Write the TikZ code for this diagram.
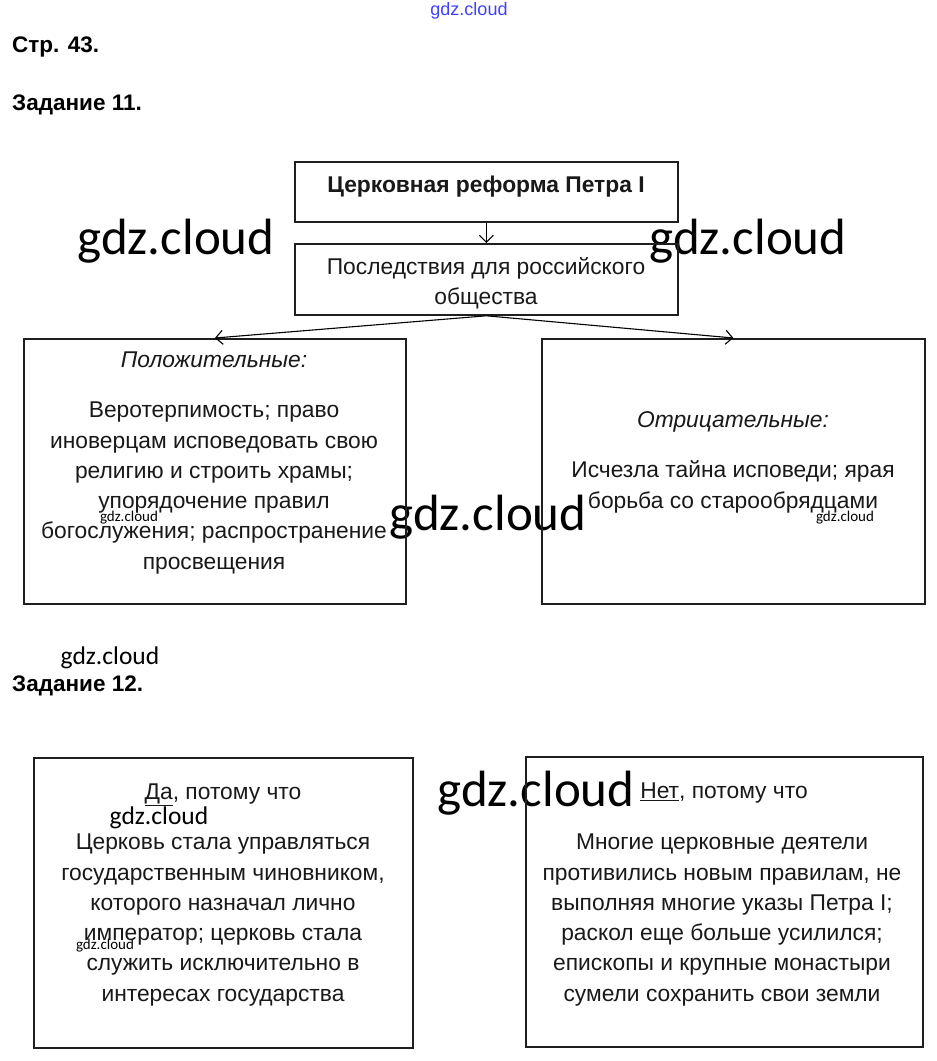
\documentclass[tikz,border=0pt]{standalone}
\usepackage{fontspec}
\setmainfont{Liberation Sans}
\newfontfamily\wmfont{Carlito}
\usetikzlibrary{arrows.meta}
\begin{document}
\begin{tikzpicture}[x=1pt,y=-1pt,
  box/.style={draw=black!88,line width=1.8pt,anchor=north west,inner sep=0pt},
  body/.style={font=\fontsize{22.8}{30.3}\selectfont,align=center,inner sep=0pt,text=black!90},
  head/.style={font=\fontsize{22.5}{24}\selectfont\bfseries,anchor=base west,inner sep=0pt},
  arr/.style={line width=1.1pt,-{Straight Barb[length=7pt,width=14pt]}},
  wmbig/.style={font=\wmfont\fontsize{51}{51}\selectfont,inner sep=0pt},
  wmmid/.style={font=\wmfont\fontsize{25.5}{25}\selectfont,inner sep=0pt},
  wmsmall/.style={font=\wmfont\fontsize{15}{15}\selectfont,inner sep=0pt}]
\useasboundingbox[fill=white] (0,0) rectangle (937,1061);
% watermarks (under the box lines)
\node[font=\fontsize{18}{18}\selectfont,text=blue!75,inner sep=0pt] (wtop) at (469,11) {gdz.cloud};
\node[wmbig] (w1) at (176,241) {gdz.cloud};
\node[wmbig] (w2) at (748,241) {gdz.cloud};
\node[wmbig] (w3) at (488,517) {gdz.cloud};
\node[wmbig] (w4) at (536,793) {gdz.cloud};
\node[wmmid] (w5) at (110,658) {gdz.cloud};
\node[wmmid] (w6) at (159,818) {gdz.cloud};
\node[wmsmall] (w7) at (129,518) {gdz.cloud};
\node[wmsmall] (w8) at (845,518) {gdz.cloud};
\node[wmsmall] (w9) at (105,946) {gdz.cloud};
% headings
\node[head] (p43) at (12,52) {Стр. 43.};
\node[head] (z11) at (12,110) {Задание 11.};
\node[head] (z12) at (12,691) {Задание 12.};
% task 11 boxes
\node[box,minimum width=383pt,minimum height=60pt] (b1) at (294,161) {};
\node[box,minimum width=383pt,minimum height=71pt] (b2) at (294,243) {};
\node[box,minimum width=382pt,minimum height=265pt] (bl) at (23,338) {};
\node[box,minimum width=383pt,minimum height=265pt] (br) at (541,338) {};
\node[body,font=\fontsize{22.8}{26}\selectfont\bfseries] (t1) at (486,187) {Церковная реформа Петра I};
\node[body] (t2) at (486,283) {Последствия для российского\\общества};
\node[body] (tlh) at (214,360) {\itshape Положительные:};
\node[body] (tl) at (214,488) {Веротерпимость; право\\иноверцам исповедовать свою\\религию и строить храмы;\\упорядочение правил\\богослужения; распространение\\просвещения};
\node[body] (trh) at (733,422) {\itshape Отрицательные:};
\node[body] (tr) at (733,487) {Исчезла тайна исповеди; ярая\\борьба со старообрядцами};
\draw[arr] (b1.south) -- (b2.north);
\draw[arr] (b2.south) -- (bl.north);
\draw[arr] (b2.south) -- (br.north);
% task 12 boxes
\node[box,minimum width=379pt,minimum height=290pt] (b3) at (33,757) {};
\node[box,minimum width=397pt,minimum height=290pt] (b4) at (525,756) {};
\node[body] (t3h) at (223,794.5) {\underline{Да}, потому что};
\node[body] (t3) at (223,920) {Церковь стала управляться\\государственным чиновником,\\которого назначал лично\\император; церковь стала\\служить исключительно в\\интересах государства};
\node[body] (t4h) at (724,793.5) {\underline{Нет}, потому что};
\node[body] (t4) at (722,920) {Многие церковные деятели\\противились новым правилам, не\\выполняя многие указы Петра I;\\раскол еще больше усилился;\\епископы и крупные монастыри\\сумели сохранить свои земли};
\end{tikzpicture}
\end{document}
